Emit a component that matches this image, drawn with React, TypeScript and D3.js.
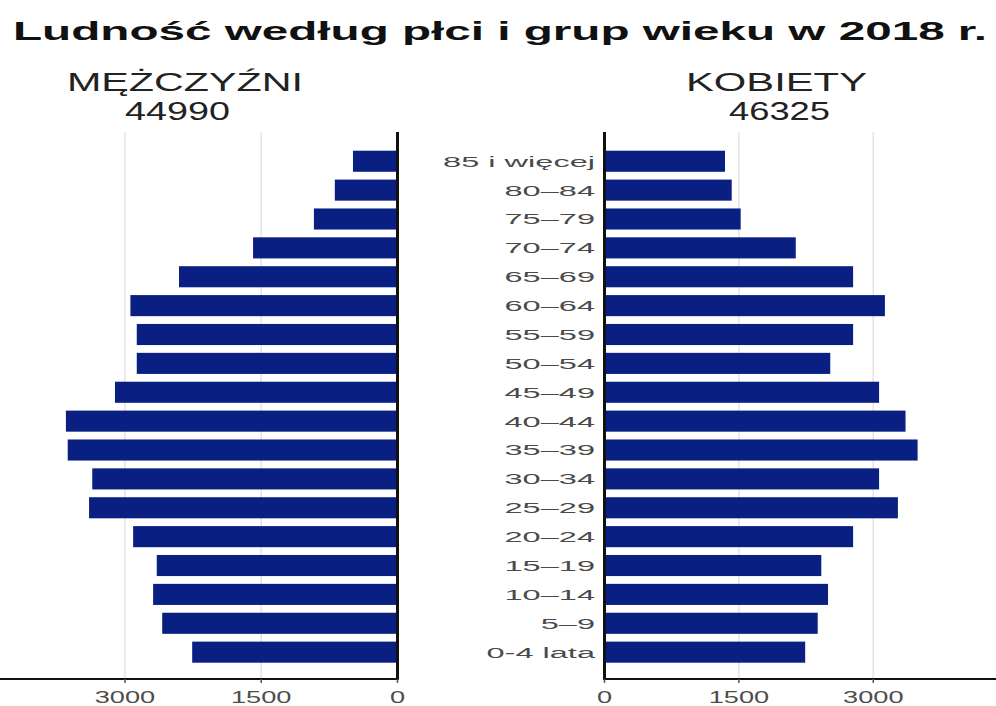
import React from "react";
import * as d3 from "d3";

// Population by sex and five-year age group, 2018 (thousands)
const ageGroups = [
  "85 i więcej", "80–84", "75–79", "70–74", "65–69", "60–64", "55–59", "50–54", "45–49",
  "40–44", "35–39", "30–34", "25–29", "20–24", "15–19", "10–14", "5–9", "0-4 lata",
];
const men = [490, 690, 920, 1590, 2405, 2940, 2870, 2870, 3110, 3650, 3630, 3360, 3395, 2910, 2650, 2690, 2590, 2260];
const women = [1345, 1420, 1520, 2135, 2775, 3130, 2775, 2520, 3065, 3360, 3495, 3065, 3275, 2775, 2420, 2495, 2380, 2240];
const sexLabels = ["MĘŻCZYŹNI", "KOBIETY"];
const sexTotals = [44990, 46325];
const tickValues = [0, 1500, 3000];
const title = "Ludność według płci i grup wieku w 2018 r.";

const W = 996;
const H = 706;
const BAR = "#0a1f82";
const GRID = "#e4e4e4";
const TOP = 132;
const AXIS_Y = 679;
const X_MAX = 4370;

export default function App() {
  const y = d3
    .scaleBand<string>()
    .domain(ageGroups)
    .range([146.8, 666.6])
    .paddingInner(0.27)
    .paddingOuter(0.135);

  const xL = d3.scaleLinear().domain([0, X_MAX]).range([397.5, 0.5]);
  const xR = d3.scaleLinear().domain([0, X_MAX]).range([604.5, 996]);

  const font = "'Liberation Sans', Arial, Helvetica, sans-serif";

  // text with a horizontal stretch applied around its anchor point
  const stretched = (
    x: number,
    yy: number,
    sx: number,
    content: string,
    props: React.SVGProps<SVGTextElement>,
    key?: string | number
  ) => (
    <g key={key} transform={`translate(${x},${yy}) scale(${sx},1)`}>
      <text x={0} y={0} {...props}>
        {content}
      </text>
    </g>
  );

  return (
    <svg
      width={W}
      height={H}
      viewBox={`0 0 ${W} ${H}`}
      style={{ position: "absolute", left: 0, top: 0, background: "#fff" }}
      fontFamily={font}
    >
      {/* title */}
      <text
        x={13}
        y={39.5}
        fontSize={26}
        fontWeight="bold"
        fill="#111"
        textLength={974}
        lengthAdjust="spacingAndGlyphs"
      >
        {title}
      </text>

      {/* panel headers */}
      <text x={67} y={90.5} fontSize={25} fill="#222" textLength={236} lengthAdjust="spacingAndGlyphs">
        {sexLabels[0]}
      </text>
      <text x={125} y={120} fontSize={25} fill="#222" textLength={105} lengthAdjust="spacingAndGlyphs">
        {String(sexTotals[0])}
      </text>
      <text x={686} y={90.5} fontSize={25} fill="#222" textLength={181} lengthAdjust="spacingAndGlyphs">
        {sexLabels[1]}
      </text>
      <text x={729} y={120} fontSize={25} fill="#222" textLength={101} lengthAdjust="spacingAndGlyphs">
        {String(sexTotals[1])}
      </text>

      {/* grid lines */}
      {tickValues
        .filter((t) => t > 0)
        .map((t) => (
          <g key={`g${t}`}>
            <line x1={xL(t)} x2={xL(t)} y1={TOP} y2={AXIS_Y} stroke={GRID} strokeWidth={1.5} />
            <line x1={xR(t)} x2={xR(t)} y1={TOP} y2={AXIS_Y} stroke={GRID} strokeWidth={1.5} />
          </g>
        ))}

      {/* men bars */}
      {men.map((v, i) => (
        <rect
          key={`m${i}`}
          x={xL(v)}
          y={y(ageGroups[i])}
          width={xL(0) - xL(v)}
          height={y.bandwidth()}
          fill={BAR}
        />
      ))}

      {/* women bars */}
      {women.map((v, i) => (
        <rect
          key={`w${i}`}
          x={xR(0)}
          y={y(ageGroups[i])}
          width={xR(v) - xR(0)}
          height={y.bandwidth()}
          fill={BAR}
        />
      ))}

      {/* zero lines */}
      <line x1={xL(0)} x2={xL(0)} y1={TOP} y2={AXIS_Y} stroke="#111" strokeWidth={3} />
      <line x1={xR(0)} x2={xR(0)} y1={TOP} y2={AXIS_Y} stroke="#111" strokeWidth={3} />

      {/* x axes */}
      <line x1={0} x2={xL(0) + 1.5} y1={AXIS_Y} y2={AXIS_Y} stroke="#111" strokeWidth={2} />
      <line x1={xR(0) - 1.5} x2={W} y1={AXIS_Y} y2={AXIS_Y} stroke="#111" strokeWidth={2} />
      {tickValues.map((t) => (
        <g key={`t${t}`}>
          <line x1={xL(t)} x2={xL(t)} y1={AXIS_Y} y2={AXIS_Y + 4} stroke="#555" strokeWidth={1.5} />
          <line x1={xR(t)} x2={xR(t)} y1={AXIS_Y} y2={AXIS_Y + 4} stroke="#555" strokeWidth={1.5} />
          {stretched(xL(t), 703, 1.6, String(t), { fontSize: 17, fill: "#4d4d4d", textAnchor: "middle" })}
          {stretched(xR(t), 703, 1.6, String(t), { fontSize: 17, fill: "#4d4d4d", textAnchor: "middle" })}
        </g>
      ))}

      {/* age group labels */}
      {ageGroups.map((a) =>
        stretched(
          595,
          (y(a) ?? 0) + y.bandwidth() / 2,
          2.1,
          a,
          { fontSize: 15.5, fill: "#4a4a4a", textAnchor: "end", dominantBaseline: "central" },
          a
        )
      )}
    </svg>
  );
}
